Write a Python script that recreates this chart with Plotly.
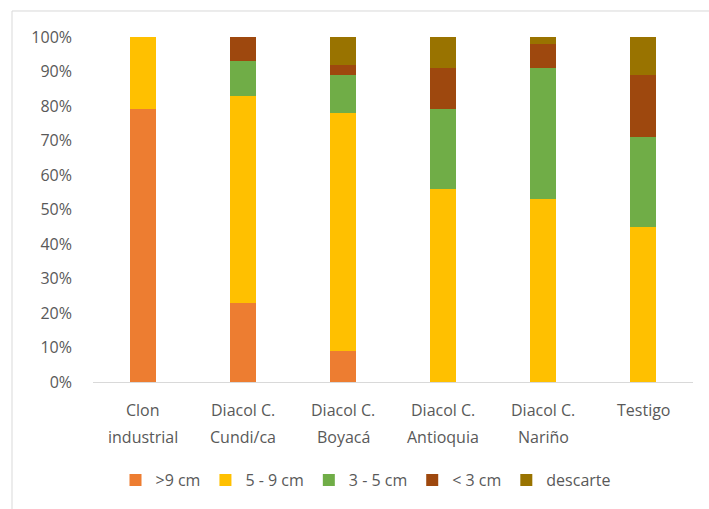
import plotly.graph_objects as go

categories = ["Clon industrial", "Diacol C. Cundi/ca", "Diacol C. Boyacá",
              "Diacol C. Antioquia", "Diacol C. Nariño", "Testigo"]
label_line1 = ["Clon", "Diacol C.", "Diacol C.", "Diacol C.", "Diacol C.", "Testigo"]
label_line2 = ["industrial", "Cundi/ca", "Boyacá", "Antioquia", "Nariño", ""]

series_names = [">9 cm", "5 - 9 cm", "3 - 5 cm", "< 3 cm", "descarte"]
over_9 = [79, 23, 9, 0, 0, 0]
from_5_to_9 = [21, 60, 69, 56, 53, 45]
from_3_to_5 = [0, 10, 11, 23, 38, 26]
under_3 = [0, 7, 3, 12, 7, 18]
discard = [0, 0, 8, 9, 2, 11]
series_values = [over_9, from_5_to_9, from_3_to_5, under_3, discard]
colors = ["#ED7D31", "#FFC000", "#70AD47", "#9E480E", "#997300"]

tick_vals = [0, 10, 20, 30, 40, 50, 60, 70, 80, 90, 100]
tick_text = [f"{v}%" for v in tick_vals]

font_family = "Open Sans, Noto Sans, sans-serif"
text_color = "#595959"
fs = 16

fig = go.Figure()
for name, vals, col in zip(series_names, series_values, colors):
    fig.add_trace(go.Bar(
        x=categories, y=vals, name=name, width=0.26,
        marker=dict(color=col, line=dict(width=0)),
    ))

# two-line category labels under the axis
for cat, l1, l2 in zip(categories, label_line1, label_line2):
    fig.add_annotation(x=cat, y=-0.081, xref="x", yref="paper", text=l1,
                       showarrow=False, yanchor="middle",
                       font=dict(family=font_family, size=fs, color=text_color))
    if l2:
        fig.add_annotation(x=cat, y=-0.159, xref="x", yref="paper", text=l2,
                           showarrow=False, yanchor="middle",
                           font=dict(family=font_family, size=fs, color=text_color))

# chart frame
fig.add_shape(type="rect", xref="paper", yref="paper",
              x0=-0.135, x1=1.1, y0=-0.5, y1=1.0754,
              line=dict(color="#D9D9D9", width=1), fillcolor="rgba(0,0,0,0)",
              layer="below")

fig.update_layout(
    width=709, height=509,
    margin=dict(l=93, r=16, t=37, b=127),
    barmode="stack",
    paper_bgcolor="white", plot_bgcolor="white",
    font=dict(family=font_family, size=fs, color=text_color),
    showlegend=True,
    legend=dict(orientation="h", x=0.455, xanchor="center", y=-0.284, yanchor="middle",
                font=dict(family=font_family, size=fs, color=text_color),
                itemwidth=30, traceorder="normal", itemclick=False,
                tracegroupgap=0),
    xaxis=dict(showticklabels=False, showline=True, linecolor="#D9D9D9", linewidth=1,
               showgrid=False, zeroline=False, ticks=""),
    yaxis=dict(range=[0, 100], tickvals=tick_vals, ticktext=tick_text,
               showgrid=False, zeroline=False, showline=False, ticks="",
               ticklabelstandoff=20,
               tickfont=dict(family=font_family, size=fs, color=text_color)),
)

fig.write_html("out.html")
